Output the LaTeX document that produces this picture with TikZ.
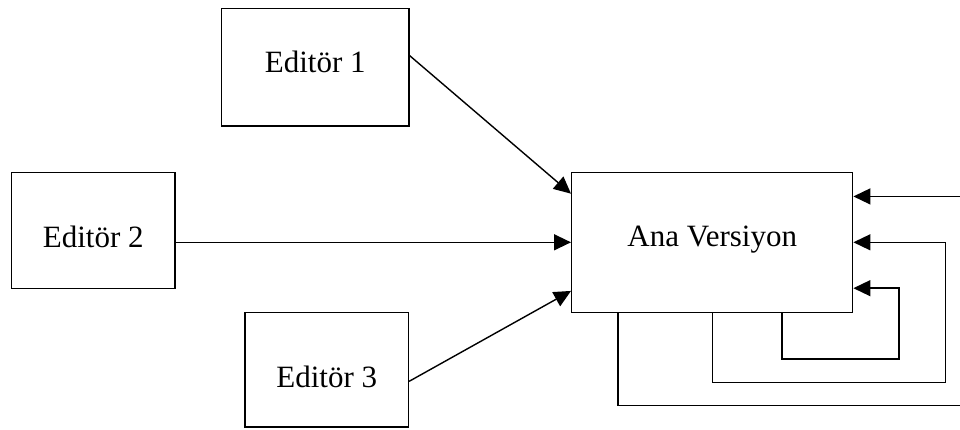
\documentclass[tikz,border=0pt]{standalone}
\usepackage{fontspec}
\setmainfont{Liberation Serif}
\usetikzlibrary{arrows.meta,calc}
\begin{document}
\begin{tikzpicture}[x=1pt,y=-1pt,
  box/.style={draw,line width=1.4pt,inner sep=0pt},
  txt/.style={anchor=base,inner sep=0pt,font=\fontsize{31}{37}\selectfont},
  arr/.style={line width=1.4pt,-{Triangle[length=17pt,width=16pt]}}]
\useasboundingbox (0,0) rectangle (960,429);
\node[box,minimum width=187.3pt,minimum height=117.7pt] (e1) at (315.3,67.2) {};
\node[box,minimum width=163.3pt,minimum height=116pt] (e2) at (93.3,230.3) {};
\node[box,minimum width=163.3pt,minimum height=114.3pt] (e3) at (326.7,369.8) {};
\node[box,minimum width=281pt,minimum height=140pt] (ana) at (712.2,242.3) {};
\node[txt] (t1) at (315.3,72) {Editör 1};
\node[txt] (t2) at (93.3,247.3) {Editör 2};
\node[txt] (t3) at (326.7,387.3) {Editör 3};
\node[txt] (ta) at (712.2,246.7) {Ana Versiyon};
\draw[arr] (e1.7) -- (ana.161);
\draw[arr] (e2.east |- ana.west) -- (ana.west);
\draw[arr] (e3.-8) -- (ana.199);
\coordinate (c1) at (899,359);
\coordinate (c2) at (945.7,382.3);
\coordinate (c3) at (966,405.7);
\draw[arr] ($(ana.south west)!0.747!(ana.south east)$) |- (c1) |- (ana.-18);
\draw[arr] (ana.south) |- (c2) |- (ana.east);
\draw[arr] ($(ana.south west)!0.166!(ana.south east)$) |- (c3) |- (ana.18);
\end{tikzpicture}
\end{document}
